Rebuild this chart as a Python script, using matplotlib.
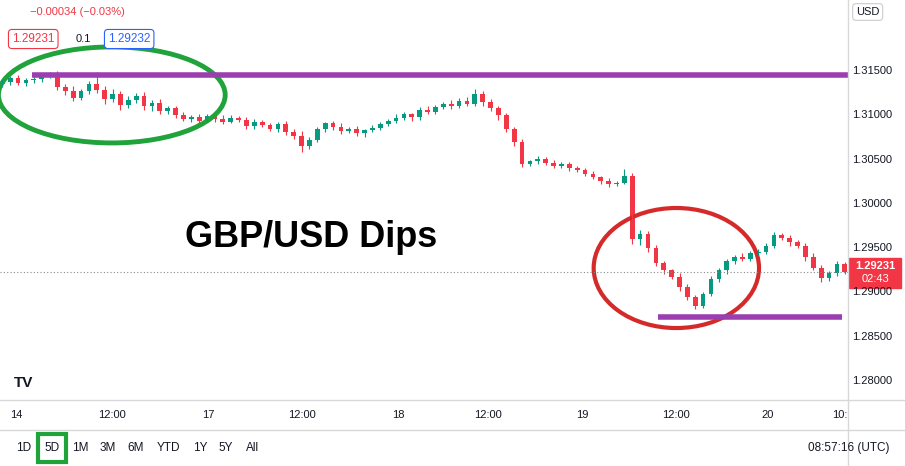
import matplotlib
matplotlib.use("Agg")
import matplotlib.pyplot as plt
from matplotlib.patches import Ellipse, Rectangle, FancyBboxPatch

plt.rcParams['font.family'] = ['Liberation Sans', 'DejaVu Sans']

closes = [1.3138,1.3142,1.3136,1.3140,1.3141,1.3144,1.3146,1.3132,1.3128,1.3120,1.3127,1.3135,
          1.3129,1.3118,1.3124,1.3112,1.3117,1.3122,1.3110,1.3114,1.3105,1.3108,1.3100,1.3096,
          1.3098,1.3094,1.3099,1.3096,1.3093,1.3097,1.3095,1.3088,1.3092,1.3089,1.3085,1.3090,
          1.3081,1.3077,1.3065,1.3072,1.3084,1.3091,1.3087,1.3082,1.3085,1.3080,1.3083,1.3086,
          1.3090,1.3094,1.3097,1.3101,1.3098,1.3106,1.3104,1.3109,1.3113,1.3110,1.3116,1.3113,
          1.3124,1.3115,1.3108,1.3100,1.3085,1.3070,1.3045,1.3048,1.3051,1.3046,1.3043,1.3045,
          1.3040,1.3038,1.3034,1.3030,1.3026,1.3022,1.3024,1.3031,1.2960,1.2966,1.2950,1.2933,
          1.2925,1.2918,1.2906,1.2895,1.2885,1.2898,1.2915,1.2925,1.2935,1.2940,1.2938,1.2944,
          1.2946,1.2952,1.2965,1.2962,1.2957,1.2953,1.2940,1.2928,1.2916,1.2922,1.2932,1.29231]
first_open = 1.3135
# wick extensions in pips (0.0001)
up_wick = [3,2,4,2,3,2,3,4,3,5,3,4, 14,4,6,3,5,3,4,3,4,2,3,4, 2,3,3,2,4,3,2,3,4,3,2,3,
           4,3,5,4,3,2,3,4,2,3,2,3, 3,2,4,3,2,3,4,3,2,4,3,5, 6,4,3,2,3,2,3,2,3,2,3,2,
           2,3,2,3,2,3,2,8,4,5,3,4, 3,2,4,3,2,3,4,3,3,2,4,3, 3,4,3,2,3,2,3,4,3,2,3,2]
dn_wick = [3,4,2,3,4,3,2,3,5,4,3,3, 4,5,3,6,4,3,4,5,3,4,3,2, 3,4,2,3,3,2,3,4,3,2,3,4,
           3,4,6,3,2,3,4,3,2,3,4,2, 3,2,3,2,4,3,2,3,2,3,2,3, 3,4,3,5,4,5,3,2,3,2,3,2,
           3,2,3,2,3,3,2,2,5,6,4,3, 4,3,4,3,4,3,2,3,4,3,2,3, 2,3,2,3,4,3,4,3,4,3,3,2]

resistance = 1.3145
support = 1.2872
current = 1.29231
yticks = [1.28, 1.285, 1.29, 1.295, 1.30, 1.305, 1.31, 1.315]
xtick_pos = [1.8, 13.9, 26.1, 38.1, 50.3, 61.7, 73.6, 85.5, 97.2, 106.4]
xtick_lab = ["14", "12:00", "17", "12:00", "18", "12:00", "19", "12:00", "20", "10:"]

W, H = 905, 466
fig = plt.figure(figsize=(W/100, H/100), dpi=100)
ax = fig.add_axes([0, 1-400/H, 848/W, 370/H])
ax.set_xlim(-0.3, 107.4)
ax.set_ylim(1.27786, 1.31963)

GREEN, RED = "#089981", "#f23645"
opens = [first_open] + closes[:-1]
for i, (o, c) in enumerate(zip(opens, closes)):
    col = GREEN if c >= o else RED
    hi = max(o, c) + up_wick[i]*0.0001
    lo = min(o, c) - dn_wick[i]*0.0001
    ax.vlines(i, lo, hi, color=col, lw=0.8)
    ax.add_patch(Rectangle((i-0.3, min(o, c)), 0.6, max(abs(c-o), 0.00004), color=col, lw=0))

PURPLE = "#9b3fb0"
ax.hlines(resistance, 3.8, 107.4, color=PURPLE, lw=4)
ax.hlines(support, 83.3, 106.7, color=PURPLE, lw=4)
ax.axhline(current, color="#888888", lw=0.8, ls=(0, (1, 2)))

ax.add_patch(Ellipse((13.9, 1.3123), 28.8, 0.01084, fill=False, ec="#1fa33a", lw=3.5))
ax.add_patch(Ellipse((85.6, 1.29276), 21, 0.01355, fill=False, ec="#d42a2a", lw=3))
ax.text(23.2, 1.2962, "GBP/USD Dips", fontsize=26, fontweight="bold", va="center", ha="left")

for s in ax.spines.values():
    s.set_visible(False)
ax.set_xticks([]); ax.set_yticks([])

# frame lines
fig.add_artist(plt.Line2D([848/W, 848/W], [0, 1], color="#d8d8d8", lw=1))
fig.add_artist(plt.Line2D([0, 1], [1-400/H]*2, color="#d8d8d8", lw=1))
fig.add_artist(plt.Line2D([0, 1], [1-430/H]*2, color="#d8d8d8", lw=1))

# price axis labels
for v in yticks:
    yf = ax.transData.transform((0, v))[1] / H
    fig.text(852/W, yf, f"{v:.5f}", fontsize=8, va="center", color="#131722")
yf = ax.transData.transform((0, current))[1] / H
fig.patches.append(Rectangle((849/W, yf-16/H), 52/W, 30/H, transform=fig.transFigure, color=RED))
fig.text(875/W, yf+6/H, "1.29231", fontsize=8, ha="center", va="center", color="white", fontweight="bold")
fig.text(875/W, yf-7/H, "02:43", fontsize=8, ha="center", va="center", color="white")

# x tick labels
for p, l in zip(xtick_pos, xtick_lab):
    xf = ax.transData.transform((p, 0))[0] / W
    fig.text(xf, 1-415/H, l, fontsize=8, ha="center", va="center", color="#131722")

# top-left legend
fig.text(30/W, 1-12/H, "\u22120.00034 (\u22120.03%)", fontsize=8, color=RED, va="center")
fig.text(12/W, 1-39/H, "1.29231", fontsize=8.5, color=RED, va="center",
         bbox=dict(boxstyle="round,pad=0.3", fc="white", ec=RED, lw=0.8))
fig.text(76/W, 1-39/H, "0.1", fontsize=8, color="#131722", va="center")
fig.text(108/W, 1-39/H, "1.29232", fontsize=8.5, color="#2962ff", va="center",
         bbox=dict(boxstyle="round,pad=0.3", fc="white", ec="#2962ff", lw=0.8))
fig.text(856/W, 1-12/H, "USD", fontsize=8, color="#131722", va="center",
         bbox=dict(boxstyle="round,pad=0.3", fc="white", ec="#cccccc", lw=0.8))
fig.text(14/W, 1-383/H, "TV", fontsize=11, fontweight="bold", color="#131722", va="center")

# bottom toolbar
periods = ["1D", "5D", "1M", "3M", "6M", "YTD", "1Y", "5Y", "All"]
px = [24, 52, 80, 108, 136, 168, 200, 226, 253]
for p, x in zip(periods, px):
    fig.text(x/W, 1-448/H, p, fontsize=8.5, ha="center", va="center", color="#131722")
fig.patches.append(Rectangle((38/W, 1-462/H), 28/W, 28/H, transform=fig.transFigure,
                             fill=False, ec="#1fa33a", lw=3))
fig.text(808/W, 1-448/H, "08:57:16 (UTC)", fontsize=8.5, va="center", color="#131722")

fig.savefig("out.png", dpi=100)
